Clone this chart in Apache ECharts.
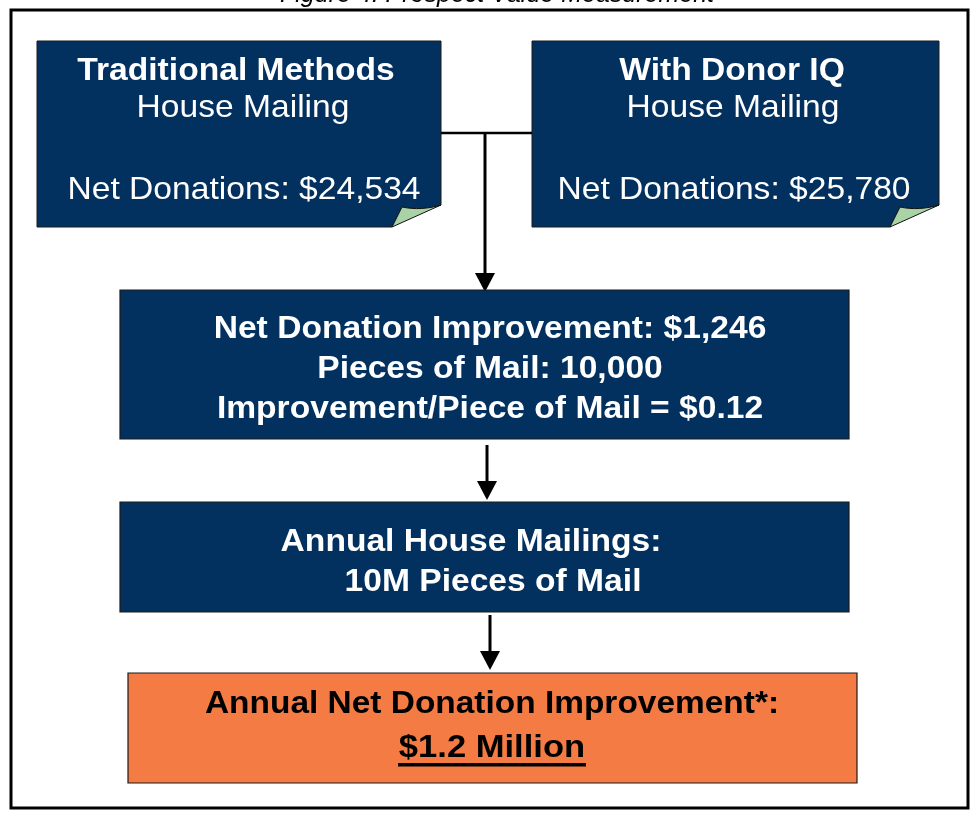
<!DOCTYPE html>
<html>
<head>
<meta charset="utf-8">
<script src="https://cdn.jsdelivr.net/npm/echarts@6/dist/echarts.min.js"></script>
<style>
	html, body { margin: 0; padding: 0; background: #fff; }
	#chart { width: 975px; height: 813px; }
</style>
</head>
<body>
<div id="chart"></div>
<script>
// texts of the flow chart
var figureTitle = 'Figure 4: Prospect Value Measurement';
var traditionalLines = ['Traditional Methods', 'House Mailing', 'Net Donations: $24,534'];
var donorIqLines = ['With Donor IQ', 'House Mailing', 'Net Donations: $25,780'];
var improvementLines = ['Net Donation Improvement: $1,246', 'Pieces of Mail: 10,000', 'Improvement/Piece of Mail = $0.12'];
var annualLines = ['Annual House Mailings:', '10M Pieces of Mail'];
var resultLines = ['Annual Net Donation Improvement*:', '$1.2 Million'];

var BLUE = '#03315f';
var ORANGE = '#f47b44';
var FOLD = '#a9d3a6';
var FONT = '"Liberation Sans", Arial, sans-serif';

var chart = echarts.init(document.getElementById('chart'));

function txt(x, y, s, size, weight, color, sx){
	return {
		type: 'text',
		x: x,
		y: y,
		z: 10,
		scaleX: sx || 1,
		style: {
			text: s,
			fill: color || '#fff',
			font: (weight || 'normal') + ' ' + size + 'px ' + FONT,
			align: 'center',
			verticalAlign: 'middle'
		}
	};
}

// points along the curled edge of the fold
function curl(r, b){
	var pts = [];
	var p0 = [r, b-22], c = [r-20, b-16], p1 = [r-39, b-20];
	for(var i=0; i<=8; i++){
		var t = i/8;
		pts.push([
			(1-t)*(1-t)*p0[0] + 2*(1-t)*t*c[0] + t*t*p1[0],
			(1-t)*(1-t)*p0[1] + 2*(1-t)*t*c[1] + t*t*p1[1]
		]);
	}
	return pts;
}

// blue note box with a curled corner at bottom right
function noteBox(x, y, w, h){
	var r = x + w, b = y + h;
	var edge = curl(r, b);
	var body = [[x, y], [r, y]].concat(edge).concat([[r-49, b], [x, b]]);
	var fold = [[r-49, b]].concat(edge.slice().reverse());
	return [{
		type: 'polygon',
		shape: { points: body },
		style: { fill: BLUE, stroke: '#1a1a1a', lineWidth: 1 }
	}, {
		type: 'polygon',
		shape: { points: fold },
		style: { fill: FOLD, stroke: '#111', lineWidth: 1 }
	}];
}

function box(x, y, w, h, fill){
	return {
		type: 'rect',
		shape: { x: x, y: y, width: w, height: h },
		style: { fill: fill, stroke: '#1a1a1a', lineWidth: 1.2 }
	};
}

function arrow(x, y1, y2){
	return [{
		type: 'line',
		shape: { x1: x, y1: y1, x2: x, y2: y2 - 16 },
		style: { stroke: '#000', lineWidth: 3 }
	}, {
		type: 'polygon',
		shape: { points: [[x - 10, y2 - 19], [x + 10, y2 - 19], [x, y2]] },
		style: { fill: '#000' }
	}];
}

var els = [];
var FS = 32, SX = 1.05;

// outer frame and clipped caption
els.push({
	type: 'rect',
	shape: { x: 11, y: 10, width: 957, height: 798 },
	style: { fill: 'none', stroke: '#000', lineWidth: 3 }
});
els.push(txt(497, -5, figureTitle, 25, 'italic', '#000'));

// top note boxes
els = els.concat(noteBox(37, 41, 404, 186));
els = els.concat(noteBox(532, 41, 407, 186));
els.push(txt(236, 71, traditionalLines[0], FS, 'bold', '#fff', SX));
els.push(txt(243, 108, traditionalLines[1], FS, 'normal', '#fff', SX));
els.push(txt(244, 190, traditionalLines[2], FS, 'normal', '#fff', SX));
els.push(txt(732, 71, donorIqLines[0], FS, 'bold', '#fff', SX));
els.push(txt(733, 108, donorIqLines[1], FS, 'normal', '#fff', SX));
els.push(txt(734, 190, donorIqLines[2], FS, 'normal', '#fff', SX));

// connector between the two top boxes
els.push({
	type: 'line',
	shape: { x1: 441, y1: 133, x2: 532, y2: 133 },
	style: { stroke: '#000', lineWidth: 2.5 }
});
els = els.concat(arrow(485, 133, 292));

// improvement box
els.push(box(120, 290, 729, 149, BLUE));
els.push(txt(490, 329, improvementLines[0], FS, 'bold', '#fff', SX));
els.push(txt(490, 369, improvementLines[1], FS, 'bold', '#fff', SX));
els.push(txt(490, 409, improvementLines[2], FS, 'bold', '#fff', SX));

els = els.concat(arrow(487, 445, 500));

// annual mailings box
els.push(box(120, 502, 729, 110, BLUE));
els.push(txt(471, 542, annualLines[0], FS, 'bold', '#fff', SX));
els.push(txt(493, 582, annualLines[1], FS, 'bold', '#fff', SX));

els = els.concat(arrow(490, 615, 670));

// result box
els.push(box(128, 673, 729, 110, ORANGE));
els.push(txt(492, 704, resultLines[0], FS, 'bold', '#000', 1.045));
els.push(txt(492, 748, resultLines[1], FS, 'bold', '#000', 1.08));
els.push({
	type: 'rect',
	shape: { x: 398, y: 763, width: 188, height: 3.5 },
	style: { fill: '#000' }
});

chart.setOption({
	animation: false,
	backgroundColor: '#fff',
	graphic: { elements: els }
});
</script>
</body>
</html>
